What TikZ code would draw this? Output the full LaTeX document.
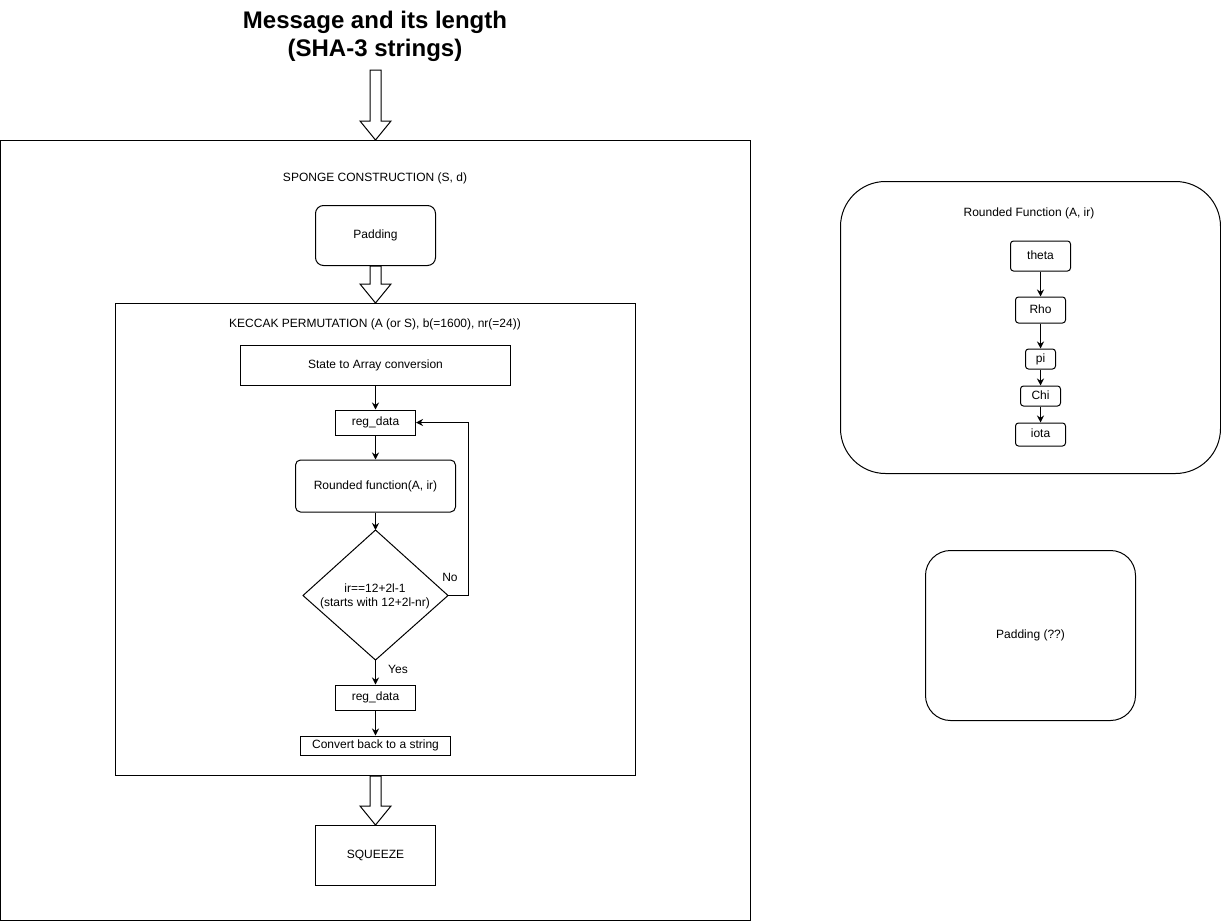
\documentclass[tikz,border=0pt]{standalone}
\usepackage{fontspec}
\setmainfont{Liberation Sans}
\usetikzlibrary{arrows.meta,calc}
\tikzset{
  box/.style={draw, line width=1pt, minimum width=#1, inner sep=0pt, font=\fontsize{12}{14}\selectfont, text depth=2.2pt, text height=8.6pt},
  lbl/.style={inner sep=0pt, font=\fontsize{12}{14}\selectfont},
  conn/.style={draw, line width=1pt, -{Stealth[length=7pt,width=7pt]}},
}
\newcommand\bigarrow[2]{\draw[line width=1pt, fill=white] let \p1=(#1), \p2=(#2) in
  (\x1-5.5pt,\y1) -- (\x1+5.5pt,\y1) -- (\x1+5.5pt,\y2+19pt) -- (\x1+15.5pt,\y2+19pt) -- (\x1,\y2)
  -- (\x1-15.5pt,\y2+19pt) -- (\x1-5.5pt,\y2+19pt) -- cycle;}
\begin{document}
\begin{tikzpicture}[x=1pt,y=-1pt]
\useasboundingbox (0,0) rectangle (1221,921);
% title
\node[align=center, font=\bfseries\fontsize{24}{28}\selectfont, inner sep=0pt] (title) at (375,36.5) {Message and its length\\(SHA-3 strings)};
\coordinate (a1s) at (375.5,70);
% outer box
\node[draw, line width=1pt, minimum width=750, minimum height=780, inner sep=0pt] (outer) at (375.5,530.5) {};
\node[lbl] (sponge) at (375,178) {SPONGE CONSTRUCTION (S, d)};
\node[box=120, minimum height=60, rounded corners=8pt] (pad) at (375.5,235.5) {Padding};
% keccak
\node[draw, line width=1pt, minimum width=520, minimum height=472, inner sep=0pt] (kec) at (375.5,539.5) {};
\node[lbl] (keclbl) at (375,324) {KECCAK PERMUTATION (A (or S), b(=1600), nr(=24))};
\node[box=270, minimum height=40] (s2a) at (375.5,365.5) {State to Array conversion};
\node[box=80, minimum height=25] (reg1) at (375.5,422.5) {reg\_data};
\node[box=160, minimum height=52, rounded corners=5pt] (rf) at (375.5,486) {Rounded function(A, ir)};
\draw[line width=1pt] (375.5,530) coordinate (dt) -- (448,595.5) coordinate (dr) -- (375.5,660) coordinate (db) -- (303,595.5) coordinate (dl) -- cycle;
\node[lbl, align=center, font=\fontsize{12}{14}\selectfont] (cond) at (375,596) {ir==12+2l-1\\(starts with 12+2l-nr)};
\node[box=80, minimum height=25] (reg2) at (375.5,697.5) {reg\_data};
\node[box=150, minimum height=19] (conv) at (375.5,745.5) {Convert back to a string};
\node[box=120, minimum height=60] (sq) at (375.5,855.5) {SQUEEZE};
% connectors
\draw[conn] (s2a) -- (reg1);
\draw[conn] (reg1) -- (rf);
\draw[conn] (rf) -- (dt);
\draw[conn] (dr) -- (468.5,595.5) -- (468.5,422.5) -- (reg1.east);
\node[lbl] (no) at (450,577) {No};
\draw[conn] (db) -- (reg2);
\node[lbl] (yes) at (398,669) {Yes};
\draw[conn] (reg2) -- (conv);
% block arrows
\bigarrow{a1s}{outer.north}
\bigarrow{pad.south}{kec.north}
\bigarrow{kec.south}{sq.north}
% right: rounded function
\node[draw, line width=1pt, minimum width=380, minimum height=292, rounded corners=45pt, inner sep=0pt] (rfc) at (1030.5,327.5) {};
\node[lbl] (rfclbl) at (1029,213) {Rounded Function (A, ir)};
\node[box=60, minimum height=30, rounded corners=3pt] (theta) at (1040.5,256) {theta};
\node[box=50, minimum height=26, rounded corners=3pt] (rho) at (1040.5,310) {Rho};
\node[box=30, minimum height=20, rounded corners=3pt] (pi) at (1040.5,359) {pi};
\node[box=40, minimum height=20, rounded corners=3pt] (chi) at (1040.5,396) {Chi};
\node[box=50, minimum height=23, rounded corners=3pt] (iota) at (1040.5,434.5) {iota};
\draw[conn] (theta) -- (rho);
\draw[conn] (rho) -- (pi);
\draw[conn] (pi) -- (chi);
\draw[conn] (chi) -- (iota);
% padding ??
\node[box=210, minimum height=170, rounded corners=25pt] (padq) at (1030.5,635.5) {Padding (??)};
\end{tikzpicture}
\end{document}
